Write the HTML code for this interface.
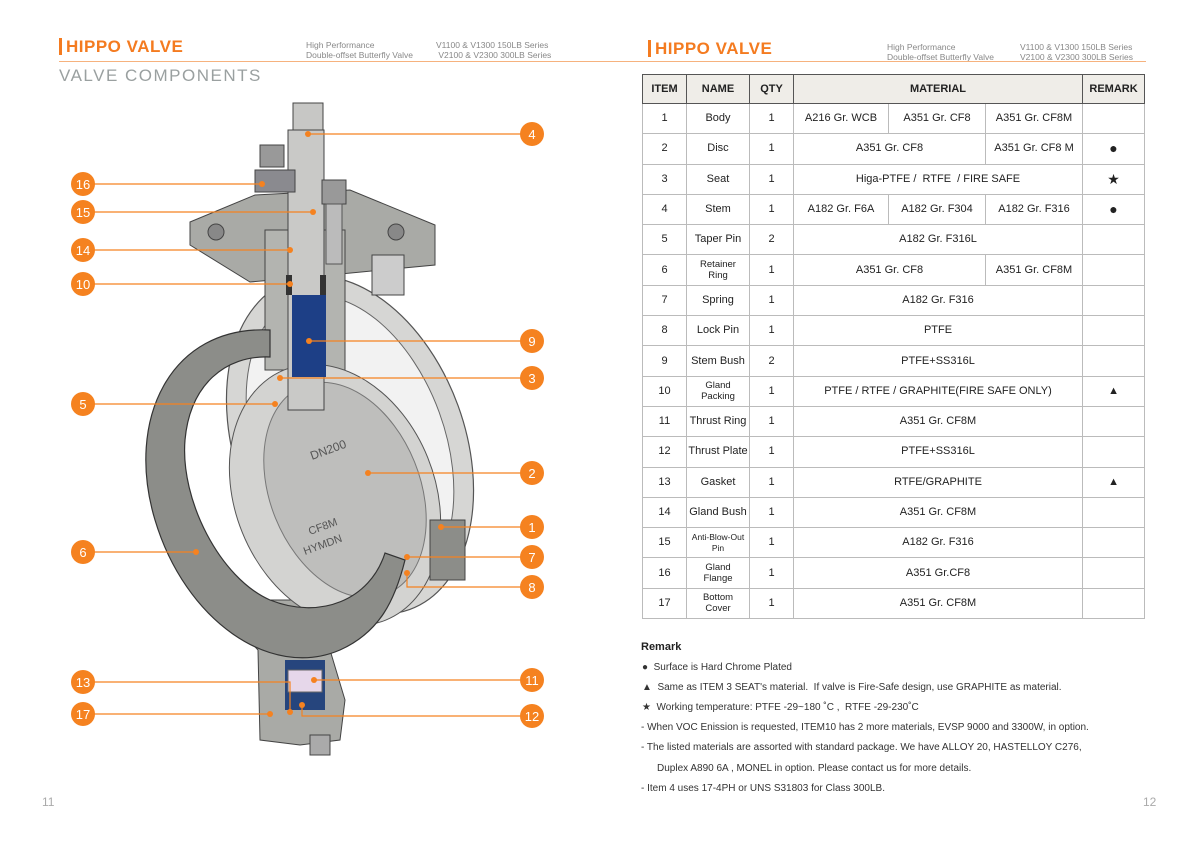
<!DOCTYPE html>
<html><head><meta charset="utf-8"><style>
*{margin:0;padding:0;box-sizing:border-box}
body{width:1200px;height:848px;background:#fff;position:relative;overflow:hidden;font-family:"Liberation Sans",sans-serif;color:#222}
.a{position:absolute}
.hdr{font-size:17px;color:#f47b20;font-weight:bold;letter-spacing:0.5px}
.bar{width:3px;height:17px;background:#f47b20}
.sub{font-size:8.5px;color:#888;line-height:10px}
table{border-collapse:collapse;position:absolute;left:642px;top:74px;width:502px;font-size:11px;table-layout:fixed}
td{border:1px solid #bbb;text-align:center;height:30.3px;padding:0;line-height:11px;vertical-align:middle}
tr.h td{background:#efede8;font-weight:bold;height:29px;border:1px solid #555}
table{border:1.5px solid #555}
.sm{font-size:9.5px}
.rm{font-size:10px;color:#333}
</style></head><body>
<div class="a bar" style="left:59px;top:38px"></div>
<div class="a hdr" style="left:66px;top:37px">HIPPO VALVE</div>
<div class="a sub" style="left:306px;top:40px">High Performance<br>Double-offset Butterfly Valve</div>
<div class="a sub" style="left:436px;top:40px">V1100 &amp; V1300 150LB Series<br>&nbsp;V2100 &amp; V2300 300LB Series</div>
<div class="a bar" style="left:648px;top:40px"></div>
<div class="a hdr" style="left:655px;top:39px">HIPPO VALVE</div>
<div class="a sub" style="left:887px;top:42px">High Performance<br>Double-offset Butterfly Valve</div>
<div class="a sub" style="left:1020px;top:42px">V1100 &amp; V1300 150LB Series<br>V2100 &amp; V2300 300LB Series</div>
<div class="a" style="left:59px;top:61px;width:1087px;height:1px;background:#f6b27e"></div>
<div class="a" style="left:59px;top:66px;font-size:17px;color:#9aa0a0;letter-spacing:1.5px">VALVE COMPONENTS</div>
<div class="a" style="left:42px;top:795px;font-size:12px;color:#aaa">11</div>
<div class="a" style="left:1143px;top:795px;font-size:12px;color:#aaa">12</div>

<svg class="a" style="left:0;top:0" width="600" height="848">
<!-- back body ring -->
<ellipse cx="350" cy="445" rx="115" ry="175" transform="rotate(-20 350 445)" fill="#d6d6d4" stroke="#555" stroke-width="1.2"/>
<ellipse cx="350" cy="445" rx="95" ry="155" transform="rotate(-20 350 445)" fill="#f2f2f2" stroke="#666"/>
<!-- bottom body -->
<polygon points="210,600 300,600 330,650 345,700 340,740 300,745 260,740 258,650" fill="#a9aaa6" stroke="#444"/>
<!-- top flange -->
<polygon points="190,222 255,195 350,190 435,225 435,265 330,275 250,282 190,245" fill="#a9aaa6" stroke="#444"/>
<rect x="265" y="230" width="80" height="140" fill="#b3b4b0" stroke="#444"/>
<circle cx="216" cy="232" r="8" fill="#888" stroke="#444"/><circle cx="396" cy="232" r="8" fill="#888" stroke="#444"/>
<rect x="372" y="255" width="32" height="40" fill="#ccc" stroke="#444"/>
<!-- disc -->
<ellipse cx="335" cy="495" rx="100" ry="135" transform="rotate(-22 335 495)" fill="#d3d3d1" stroke="#555"/>
<ellipse cx="345" cy="490" rx="75" ry="112" transform="rotate(-22 345 490)" fill="#bebebc" stroke="#777"/>
<rect x="430" y="520" width="35" height="60" fill="#8c8d89" stroke="#444"/>
<text x="312" y="460" font-size="12" fill="#555" transform="rotate(-20 312 460)">DN200</text>
<text x="310" y="535" font-size="11" fill="#555" transform="rotate(-20 310 535)">CF8M</text>
<text x="305" y="555" font-size="11" fill="#555" transform="rotate(-20 305 555)">HYMDN</text>
<!-- front retainer ring (annulus clipped) -->
<path fill-rule="evenodd" fill="#8c8d89" stroke="#333" stroke-width="1.2"
 d="M270,330 C170,325 125,420 155,520 C185,620 270,680 340,650 C380,632 395,600 405,560 L385,553 C370,600 320,620 270,600 C220,578 180,500 185,440 C190,385 225,355 270,357 Z"/>
<!-- stem -->
<rect x="293" y="103" width="30" height="30" fill="#c7c7c5" stroke="#444"/>
<rect x="288" y="130" width="36" height="280" fill="#c9c9c7" stroke="#444"/>
<rect x="292" y="295" width="34" height="82" fill="#1d3f86"/>
<rect x="286" y="275" width="6" height="20" fill="#333"/><rect x="320" y="275" width="6" height="20" fill="#333"/>
<!-- bottom internals -->
<rect x="285" y="660" width="40" height="50" fill="#26457d"/>
<rect x="288" y="670" width="34" height="22" fill="#e6d7ea" stroke="#666"/>
<rect x="310" y="735" width="20" height="20" fill="#aaa" stroke="#444"/>
<!-- bolts -->
<rect x="260" y="145" width="24" height="22" fill="#999" stroke="#444"/>
<rect x="322" y="180" width="24" height="24" fill="#999" stroke="#444"/>
<rect x="326" y="204" width="16" height="60" fill="#bbb" stroke="#555"/>
<rect x="255" y="170" width="40" height="22" fill="#8a8a8f" stroke="#444"/>
</svg>

<svg class="a" style="left:0;top:0" width="600" height="848" font-family="Liberation Sans" font-size="13">
<g stroke="#f58220" stroke-width="1.2" fill="none">
<path d="M308,134H532M83,184H262M83,212H313M83,250H290M83,284H290M309,341H532M280,378H532M83,404H275M368,473H532M441,527H532M83,552H196M407,557H532M407,573V587H532M83,682H290V712M314,680H532M83,714H270M302,705V716H532"/>
</g>
<g fill="#f58220">
<circle cx="308" cy="134" r="3"/><circle cx="262" cy="184" r="3"/><circle cx="313" cy="212" r="3"/><circle cx="290" cy="250" r="3"/><circle cx="290" cy="284" r="3"/><circle cx="309" cy="341" r="3"/><circle cx="280" cy="378" r="3"/><circle cx="275" cy="404" r="3"/><circle cx="368" cy="473" r="3"/><circle cx="441" cy="527" r="3"/><circle cx="196" cy="552" r="3"/><circle cx="407" cy="557" r="3"/><circle cx="407" cy="573" r="3"/><circle cx="290" cy="712" r="3"/><circle cx="314" cy="680" r="3"/><circle cx="270" cy="714" r="3"/><circle cx="302" cy="705" r="3"/>
<circle cx="532" cy="134" r="12"/><circle cx="83" cy="184" r="12"/><circle cx="83" cy="212" r="12"/><circle cx="83" cy="250" r="12"/><circle cx="83" cy="284" r="12"/><circle cx="532" cy="341" r="12"/><circle cx="532" cy="378" r="12"/><circle cx="83" cy="404" r="12"/><circle cx="532" cy="473" r="12"/><circle cx="532" cy="527" r="12"/><circle cx="83" cy="552" r="12"/><circle cx="532" cy="557" r="12"/><circle cx="532" cy="587" r="12"/><circle cx="83" cy="682" r="12"/><circle cx="532" cy="680" r="12"/><circle cx="83" cy="714" r="12"/><circle cx="532" cy="716" r="12"/>
</g>
<g fill="#fff" text-anchor="middle">
<text x="532" y="139">4</text><text x="83" y="189">16</text><text x="83" y="217">15</text><text x="83" y="255">14</text><text x="83" y="289">10</text><text x="532" y="346">9</text><text x="532" y="383">3</text><text x="83" y="409">5</text><text x="532" y="478">2</text><text x="532" y="532">1</text><text x="83" y="557">6</text><text x="532" y="562">7</text><text x="532" y="592">8</text><text x="83" y="687">13</text><text x="532" y="685">11</text><text x="83" y="719">17</text><text x="532" y="721">12</text>
</g>
</svg>

<table>
<colgroup><col style="width:44px"><col style="width:63px"><col style="width:44px"><col style="width:95px"><col style="width:97px"><col style="width:97px"><col style="width:62px"></colgroup>
<tr class="h"><td>ITEM</td><td>NAME</td><td>QTY</td><td colspan="3">MATERIAL</td><td>REMARK</td></tr>
<tr><td>1</td><td>Body</td><td>1</td><td>A216 Gr. WCB</td><td>A351 Gr. CF8</td><td>A351 Gr. CF8M</td><td></td></tr>
<tr><td>2</td><td>Disc</td><td>1</td><td colspan="2">A351 Gr. CF8</td><td>A351 Gr. CF8 M</td><td style="font-size:14px">●</td></tr>
<tr><td>3</td><td>Seat</td><td>1</td><td colspan="3">Higa-PTFE /&nbsp; RTFE&nbsp; / FIRE SAFE</td><td style="font-size:14px">★</td></tr>
<tr><td>4</td><td>Stem</td><td>1</td><td>A182 Gr. F6A</td><td>A182 Gr. F304</td><td>A182 Gr. F316</td><td style="font-size:14px">●</td></tr>
<tr><td>5</td><td>Taper Pin</td><td>2</td><td colspan="3">A182 Gr. F316L</td><td></td></tr>
<tr><td>6</td><td class="sm">Retainer<br>Ring</td><td>1</td><td colspan="2">A351 Gr. CF8</td><td>A351 Gr. CF8M</td><td></td></tr>
<tr><td>7</td><td>Spring</td><td>1</td><td colspan="3">A182 Gr. F316</td><td></td></tr>
<tr><td>8</td><td>Lock Pin</td><td>1</td><td colspan="3">PTFE</td><td></td></tr>
<tr><td>9</td><td>Stem Bush</td><td>2</td><td colspan="3">PTFE+SS316L</td><td></td></tr>
<tr><td>10</td><td class="sm">Gland<br>Packing</td><td>1</td><td colspan="3">PTFE / RTFE / GRAPHITE(FIRE SAFE ONLY)</td><td>▲</td></tr>
<tr><td>11</td><td>Thrust Ring</td><td>1</td><td colspan="3">A351 Gr. CF8M</td><td></td></tr>
<tr><td>12</td><td>Thrust Plate</td><td>1</td><td colspan="3">PTFE+SS316L</td><td></td></tr>
<tr><td>13</td><td>Gasket</td><td>1</td><td colspan="3">RTFE/GRAPHITE</td><td>▲</td></tr>
<tr><td>14</td><td>Gland Bush</td><td>1</td><td colspan="3">A351 Gr. CF8M</td><td></td></tr>
<tr><td>15</td><td class="sm" style="font-size:8.5px">Anti-Blow-Out<br>Pin</td><td>1</td><td colspan="3">A182 Gr. F316</td><td></td></tr>
<tr><td>16</td><td class="sm">Gland<br>Flange</td><td>1</td><td colspan="3">A351 Gr.CF8</td><td></td></tr>
<tr><td>17</td><td class="sm">Bottom<br>Cover</td><td>1</td><td colspan="3">A351 Gr. CF8M</td><td></td></tr>
</table>

<div class="a" style="left:641px;top:641px;font-size:11px;font-weight:bold">Remark</div>
<div class="a rm" style="left:642px;top:662px">●&nbsp; Surface is Hard Chrome Plated</div>
<div class="a rm" style="left:642px;top:682px">▲&nbsp; Same as ITEM 3 SEAT's material.&nbsp; If valve is Fire-Safe design, use GRAPHITE as material.</div>
<div class="a rm" style="left:642px;top:702px">★&nbsp; Working temperature: PTFE -29~180 ˚C ,&nbsp; RTFE -29-230˚C</div>
<div class="a rm" style="left:641px;top:722px">- When VOC Enission is requested, ITEM10 has 2 more materials, EVSP 9000 and 3300W, in option.</div>
<div class="a rm" style="left:641px;top:742px">- The listed materials are assorted with standard package. We have ALLOY 20, HASTELLOY C276,</div>
<div class="a rm" style="left:657px;top:763px">Duplex A890 6A , MONEL in option. Please contact us for more details.</div>
<div class="a rm" style="left:641px;top:783px">- Item 4 uses 17-4PH or UNS S31803 for Class 300LB.</div>
</body></html>
